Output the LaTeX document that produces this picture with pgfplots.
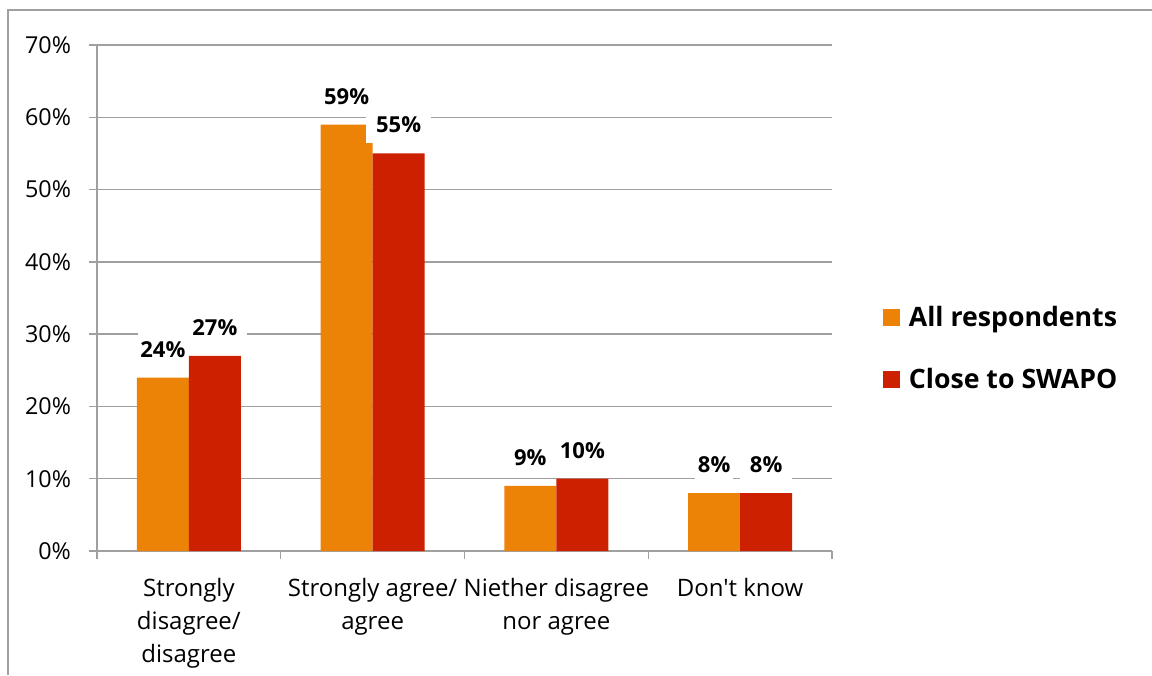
\documentclass[border=0pt]{standalone}
\usepackage{fontspec}
\setmainfont{Open Sans}[Ligatures=TeXOff]
\usepackage{pgfplots}
\pgfplotsset{compat=1.18}

\definecolor{allresp}{RGB}{236,130,6}
\definecolor{swapo}{RGB}{205,32,0}
\definecolor{gridgray}{RGB}{160,160,160}

\begin{document}
\begin{tikzpicture}
\begin{axis}[
    at={(0,0)}, anchor=south west,
    width=551.25pt, height=379.5pt,
    scale only axis,
    ybar=0pt,
    bar width=39pt,
    xmin=-0.5, xmax=3.5,
    ymin=0, ymax=70,
    xtick={0,1,2,3},
    xticklabels={{Strongly\\disagree/\\disagree},{Strongly agree/\\agree},{Niether disagree\\nor agree},{Don't know}},
    minor xtick={-0.5,0.5,1.5,2.5,3.5},
    major x tick style={draw=none},
    ytick={0,10,...,70},
    yticklabel={\pgfmathprintnumber{\tick}\%},
    /pgf/number format/assume math mode=true,
    tick align=outside,
    major tick length=6pt,
    minor tick length=6pt,
    tick style={gridgray, line width=1pt},
    axis lines*=left,
    axis line style={gridgray, line width=1pt},
    ymajorgrids=true,
    grid style={gridgray, line width=1pt},
    x tick label style={font=\fontsize{18}{24.75}\selectfont, align=center, yshift=-11pt},
    y tick label style={font=\fontsize{17.5}{20}\selectfont, xshift=-10pt},
    nodes near coords={\pgfmathprintnumber{\pgfplotspointmeta}\%},
    every node near coord/.append style={font=\bfseries\fontsize{16.5}{20}\selectfont, fill=white, inner ysep=7.5pt, yshift=7.5pt},
    legend style={at={(1.0694,0.490)}, anchor=north west, draw=none, fill=none,
        inner sep=0pt, row sep=25.75pt, cells={anchor=west},
        /tikz/every odd column/.append style={column sep=4.5pt},
        font=\bfseries\fontsize{20}{24}\selectfont},
    legend image code/.code={\fill[#1] (0pt,-6.4pt) rectangle (12.75pt,6.4pt);},
]
\addplot[fill=allresp, draw=none,
    every node near coord/.append style={inner xsep=2pt}]
    coordinates {(0,24) (1,59) (2,9) (3,8)};
\addlegendentry{All respondents}
\addplot[fill=swapo, draw=none,
    every node near coord/.append style={inner xsep=7.5pt}]
    coordinates {(0,27) (1,55) (2,10) (3,8)};
\addlegendentry{Close to SWAPO}
\end{axis}
\draw[gridgray, line width=1pt] (-66.75pt,-93pt) -- (-66.75pt,405.75pt) -- (791.25pt,405.75pt);
\pgfresetboundingbox
\path[use as bounding box] (-72.75pt,-93pt) rectangle (791.25pt,413.25pt);
\end{tikzpicture}
\end{document}
